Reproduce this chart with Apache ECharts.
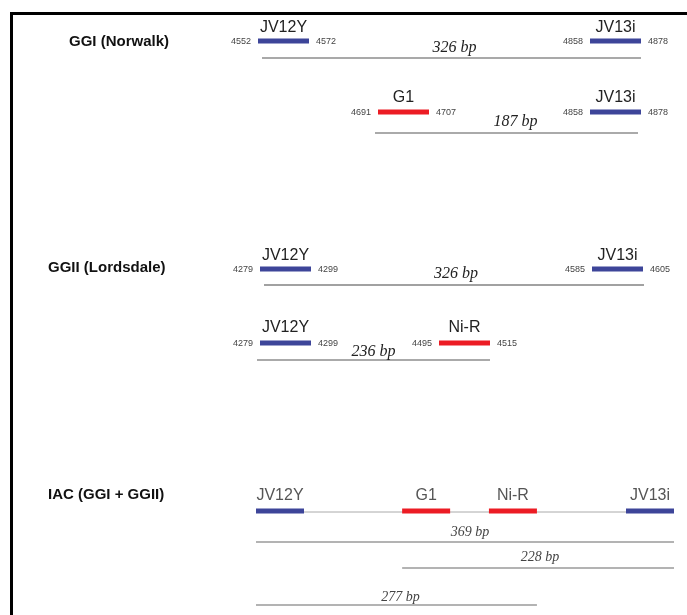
<!DOCTYPE html>
<html><head><meta charset="utf-8">
<script src="https://cdn.jsdelivr.net/npm/echarts@6/dist/echarts.min.js"></script>
<style>html,body{margin:0;padding:0;background:#fff}#c{width:687px;height:615px}</style>
</head><body><div id="c"></div>
<script>
// ---------------- DATA ----------------
const groupLabels = ['GGI (Norwalk)', 'GGII (Lordsdale)', 'IAC (GGI + GGII)'];

// [primer name, start position, end position]
const ggiA_primers = [['JV12Y', 4552, 4572], ['JV13i', 4858, 4878]];
const ggiA_bp = 326;
const ggiB_primers = [['G1', 4691, 4707], ['JV13i', 4858, 4878]];
const ggiB_bp = 187;
const ggiiA_primers = [['JV12Y', 4279, 4299], ['JV13i', 4585, 4605]];
const ggiiA_bp = 326;
const ggiiB_primers = [['JV12Y', 4279, 4299], ['Ni-R', 4495, 4515]];
const ggiiB_bp = 236;

// IAC construct: positions (bp from JV12Y start)
const iac_primers = [['JV12Y', 0, 20], ['G1', 129, 145], ['Ni-R', 228, 248], ['JV13i', 349, 369]];
// [size in bp, forward primer, reverse primer]
const iac_amplicons = [[369, 'JV12Y', 'JV13i'], [228, 'G1', 'JV13i'], [277, 'JV12Y', 'Ni-R']];

const forwardPrimers = ['JV12Y', 'G1'];
const redPrimers = ['G1', 'Ni-R'];

// ---------------- STYLE / LAYOUT ----------------
const BLUE = '#3d4599', RED = '#ec1c24';
const SANS = "'Liberation Sans', Arial, sans-serif";
const SERIF = "'Liberation Serif', 'Times New Roman', serif";

function iacPos(name, idx) { return iac_primers.find(p => p[0] === name)[idx]; }
const iacLen = iac_amplicons[0][0];

const tracks = [
  {primers: ggiA_primers, amp: [ggiA_primers[0][1], ggiA_primers[1][2], ggiA_bp], axis: [ggiA_primers[0][1], ggiA_primers[1][2]],
   left: 262, right: 641, lineY: 58, barDy: -17, nameDy: -13, labelDy: -10, labelDx: 3, fwdDx: -4, revDx: 0, lineColor: '#555', lineW: 1.2, labelSize: 16, labelColor: '#222', nameColor: '#222', numbers: true, barW: 51},
  {primers: ggiB_primers, amp: [ggiB_primers[0][1], ggiB_primers[1][2], ggiB_bp], axis: [ggiB_primers[0][1], ggiB_primers[1][2]],
   left: 375, right: 638, lineY: 133, barDy: -21, nameDy: -14, labelDy: -11, labelDx: 9, fwdDx: 3, revDx: 3, lineColor: '#aaa', lineW: 2, labelSize: 16, labelColor: '#222', nameColor: '#222', numbers: true, barW: 51},
  {primers: ggiiA_primers, amp: [ggiiA_primers[0][1], ggiiA_primers[1][2], ggiiA_bp], axis: [ggiiA_primers[0][1], ggiiA_primers[1][2]],
   left: 264, right: 644, lineY: 285, barDy: -16, nameDy: -13, labelDy: -11, labelDx: 2, fwdDx: -4, revDx: -1, lineColor: '#444', lineW: 1.2, labelSize: 16, labelColor: '#222', nameColor: '#222', numbers: true, barW: 51},
  {primers: ggiiB_primers, amp: [ggiiB_primers[0][1], ggiiB_primers[1][2], ggiiB_bp], axis: [ggiiB_primers[0][1], ggiiB_primers[1][2]],
   left: 257, right: 490, lineY: 360, barDy: -17, nameDy: -15, labelDy: -8, labelDx: 0, fwdDx: 3, revDx: 0, lineColor: '#aaa', lineW: 2, labelSize: 16, labelColor: '#222', nameColor: '#222', numbers: true, barW: 51},
  {primers: iac_primers, amp: [0, iacLen, null], axis: [0, iacLen],
   left: 256, right: 674, lineY: 512, barDy: -1, nameDy: -15, labelDy: 0, labelDx: 0, fwdDx: 0, revDx: 0, lineColor: '#aaa', lineW: 1, labelSize: 14, labelColor: '#444', nameColor: '#555', numbers: false, barW: 48}
];
const iacLayout = [
  {lineY: 542, labelDy: -10, labelDx: 5},
  {lineY: 568, labelDy: -11, labelDx: 2},
  {lineY: 605, labelDy: -8, labelDx: 4}
];
iac_amplicons.forEach((a, i) => {
  tracks.push(Object.assign({primers: [], amp: [iacPos(a[1], 1), iacPos(a[2], 2), a[0]], axis: [0, iacLen],
    left: 256, right: 674, lineColor: '#9a9a9a', lineW: 1.6, labelSize: 14, labelColor: '#444', numbers: false}, iacLayout[i]));
});

// ---------------- BUILD ----------------
const grids = [], xAxes = [], yAxes = [], series = [];
tracks.forEach((t, i) => {
  grids.push({left: t.left, width: t.right - t.left, top: t.lineY - 10, height: 10});
  xAxes.push({type: 'value', gridIndex: i, min: t.axis[0], max: t.axis[1], show: false});
  yAxes.push({type: 'value', gridIndex: i, min: 0, max: 1, show: false});

  // amplicon line + size label
  series.push({
    type: 'custom', xAxisIndex: i, yAxisIndex: i, clip: false, silent: true,
    data: [[t.amp[0], t.amp[1], 0]], encode: {x: [0, 1], y: 2},
    renderItem: function (params, api) {
      const a = api.coord([api.value(0), 0]);
      const b = api.coord([api.value(1), 0]);
      const children = [{type: 'line', shape: {x1: a[0], y1: a[1], x2: b[0], y2: b[1]},
        style: {stroke: t.lineColor, lineWidth: t.lineW}}];
      if (t.amp[2] != null) {
        children.push({type: 'text', style: {text: t.amp[2] + ' bp', x: (a[0] + b[0]) / 2 + t.labelDx, y: a[1] + t.labelDy,
          align: 'center', verticalAlign: 'middle', fontSize: t.labelSize, fontStyle: 'italic', fontFamily: SERIF, fill: t.labelColor}});
      }
      return {type: 'group', children};
    }
  });

  if (t.primers.length) {
    series.push({
      type: 'custom', xAxisIndex: i, yAxisIndex: i, clip: false, silent: true,
      data: t.primers.map(p => [p[1], p[2], 0]), encode: {x: [0, 1], y: 2},
      renderItem: function (params, api) {
        const p = t.primers[params.dataIndex];
        const fwd = forwardPrimers.includes(p[0]);
        const anchor = api.coord([fwd ? api.value(0) : api.value(1), 0]);
        const W = t.barW, H = 5;
        const x0 = (fwd ? anchor[0] : anchor[0] - W) + (fwd ? t.fwdDx : t.revDx);
        const y = anchor[1] + t.barDy;
        const children = [
          {type: 'rect', shape: {x: x0, y: y - H / 2, width: W, height: H},
           style: {fill: redPrimers.includes(p[0]) ? RED : BLUE}},
          {type: 'text', style: {text: p[0], x: x0 + W / 2, y: y + t.nameDy, align: 'center', verticalAlign: 'middle',
           fontSize: 16, fontFamily: SANS, fill: t.nameColor}}
        ];
        if (t.numbers) {
          children.push({type: 'text', style: {text: String(p[1]), x: x0 - 7, y: y + 0.5, align: 'right', verticalAlign: 'middle',
            fontSize: 9, fontFamily: SANS, fill: '#444'}});
          children.push({type: 'text', style: {text: String(p[2]), x: x0 + W + 7, y: y + 0.5, align: 'left', verticalAlign: 'middle',
            fontSize: 9, fontFamily: SANS, fill: '#444'}});
        }
        return {type: 'group', children};
      }
    });
  }
});

const labelTops = [34, 260, 487];
const labelLefts = [69, 48, 48];
const titles = groupLabels.map((g, i) => ({
  text: g, left: labelLefts[i], top: labelTops[i], padding: 0,
  textStyle: {fontSize: 15, fontWeight: 'bold', color: '#111', fontFamily: SANS}
}));

const chart = echarts.init(document.getElementById('c'), null, {renderer: 'canvas'});
chart.setOption({
  animation: false,
  backgroundColor: '#fff',
  title: titles,
  grid: grids, xAxis: xAxes, yAxis: yAxes, series: series,
  graphic: [{type: 'polyline', silent: true, shape: {points: [[11.5, 620], [11.5, 13.5], [690, 13.5]]},
    style: {stroke: '#000', lineWidth: 3, fill: null}}]
});
</script></body></html>
